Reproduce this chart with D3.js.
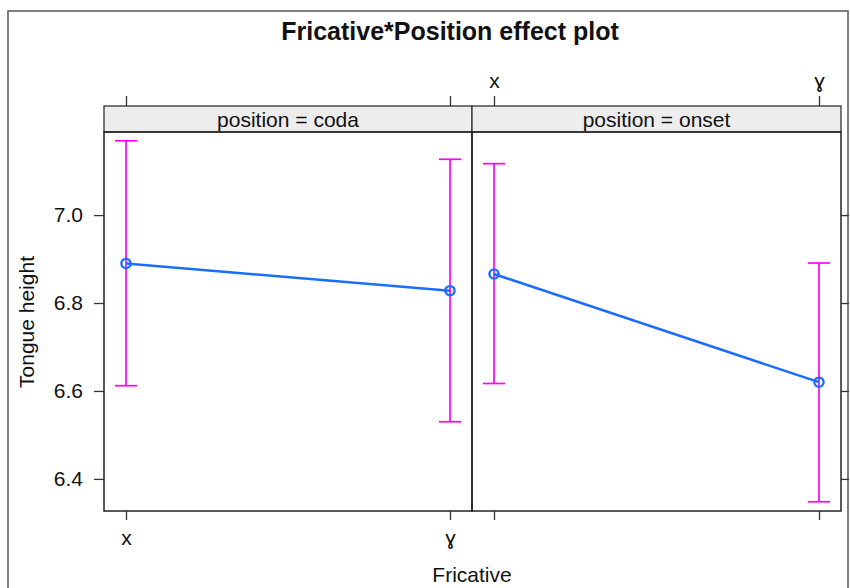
<!DOCTYPE html>
<html><head><meta charset="utf-8">
<script src="https://cdn.jsdelivr.net/npm/d3@7"></script>
<style>body{margin:0;background:#fff}svg{display:block;font-family:"Liberation Sans",Arial,Helvetica,sans-serif}</style>
</head><body><svg id="c" width="850" height="588"></svg>
<script>
const fricatives = ["x", "ɣ"];
const positions = ["coda", "onset"];
const fitCoda = [6.890, 6.828];
const lowerCoda = [6.612, 6.530];
const upperCoda = [7.169, 7.127];
const fitOnset = [6.866, 6.620];
const lowerOnset = [6.617, 6.348];
const upperOnset = [7.117, 6.891];
const yTicks = [6.4, 6.6, 6.8, 7.0];

const panels = [
  {pos: positions[0], fit: fitCoda, lo: lowerCoda, hi: upperCoda},
  {pos: positions[1], fit: fitOnset, lo: lowerOnset, hi: upperOnset}
];

const svg = d3.select("#c");
const FF = '"Liberation Sans",Arial,sans-serif';
// outer frame
svg.append("rect").attr("x", 8).attr("y", 11).attr("width", 840).attr("height", 600)
  .attr("fill", "none").attr("stroke", "#555").attr("stroke-width", 1.5);

svg.append("text").attr("x", 450).attr("y", 40).attr("text-anchor", "middle")
  .attr("font-size", 25).attr("font-weight", "bold").attr("fill", "#111").text("Fricative*Position effect plot");

const panelTop = 132, panelBottom = 511, stripTop = 106;
const panelX = [[104, 472], [472, 841]];
const y = d3.scaleLinear().domain([6.327, 7.189]).range([panelBottom, panelTop]);

panels.forEach((p, i) => {
  const [x0, x1] = panelX[i];
  const x = d3.scalePoint().domain(fricatives).range([x0 + 22, x1 - 22]);
  const g = svg.append("g");
  // strip
  g.append("rect").attr("x", x0).attr("y", stripTop).attr("width", x1 - x0).attr("height", panelTop - stripTop)
    .attr("fill", "#ededed").attr("stroke", "#333").attr("stroke-width", 1.3);
  g.append("text").attr("x", (x0 + x1) / 2).attr("y", panelTop - 5).attr("text-anchor", "middle")
    .attr("font-size", 21).attr("fill", "#111").text("position = " + p.pos);
  // panel
  g.append("rect").attr("x", x0).attr("y", panelTop).attr("width", x1 - x0).attr("height", panelBottom - panelTop)
    .attr("fill", "none").attr("stroke", "#222").attr("stroke-width", 1.5);

  // bottom axis
  const bAx = d3.axisBottom(x).tickSize(9).tickPadding(10).tickFormat(i === 0 ? d => d : () => "");
  const ba = g.append("g").attr("transform", `translate(0,${panelBottom})`).call(bAx);
  // top axis
  const tAx = d3.axisTop(x).tickSize(10).tickPadding(8).tickFormat(i === 1 ? d => d : () => "");
  const ta = g.append("g").attr("transform", `translate(0,${stripTop})`).call(tAx);
  [ba, ta].forEach(a => {
    a.select(".domain").remove();
    a.selectAll(".tick line").attr("stroke", "#333").attr("stroke-width", 1.3);
    a.selectAll(".tick text").attr("font-size", 21).attr("fill", "#111").attr("font-family", FF);
  });

  if (i === 0) {
    const la = g.append("g").attr("transform", `translate(${x0},0)`)
      .call(d3.axisLeft(y).tickValues(yTicks).tickSize(10).tickPadding(11).tickFormat(d3.format(".1f")));
    la.select(".domain").remove();
    la.selectAll(".tick line").attr("stroke", "#333").attr("stroke-width", 1.3);
    la.selectAll(".tick text").attr("font-size", 21).attr("fill", "#111").attr("font-family", FF);
  } else {
    const ra = g.append("g").attr("transform", `translate(${x1},0)`)
      .call(d3.axisRight(y).tickValues(yTicks).tickSize(8).tickFormat(() => ""));
    ra.select(".domain").remove();
    ra.selectAll(".tick line").attr("stroke", "#333").attr("stroke-width", 1.3);
  }

  // error bars
  const cap = 11;
  fricatives.forEach((f, j) => {
    const cx = x(f);
    g.append("line").attr("x1", cx).attr("x2", cx).attr("y1", y(p.lo[j])).attr("y2", y(p.hi[j]))
      .attr("stroke", "#ff00ff").attr("stroke-width", 1.7);
    [p.lo[j], p.hi[j]].forEach(v => {
      g.append("line").attr("x1", cx - cap).attr("x2", cx + cap).attr("y1", y(v)).attr("y2", y(v))
        .attr("stroke", "#ff00ff").attr("stroke-width", 1.7);
    });
  });
  // line
  const line = d3.line().x((d, j) => x(fricatives[j])).y(d => y(d));
  g.append("path").datum(p.fit).attr("d", line).attr("fill", "none")
    .attr("stroke", "#1a6dff").attr("stroke-width", 2.5);
  g.selectAll("circle.pt").data(p.fit).enter().append("circle").attr("class", "pt")
    .attr("cx", (d, j) => x(fricatives[j])).attr("cy", d => y(d)).attr("r", 4.6)
    .attr("fill", "none").attr("stroke", "#1a6dff").attr("stroke-width", 2.4);
});

svg.append("text").attr("x", 472).attr("y", 582).attr("text-anchor", "middle")
  .attr("font-size", 21).attr("fill", "#111").text("Fricative");
svg.append("text").attr("transform", "translate(34,322) rotate(-90)").attr("text-anchor", "middle")
  .attr("font-size", 21).attr("fill", "#111").text("Tongue height");
</script></body></html>
